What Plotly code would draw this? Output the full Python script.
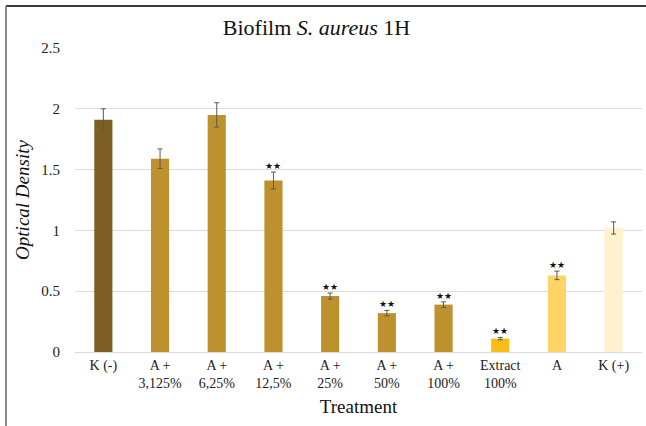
import plotly.graph_objects as go

# Biofilm optical density per treatment
categories = ["K (-)", "A +<br>3,125%", "A +<br>6,25%", "A +<br>12,5%", "A +<br>25%",
              "A +<br>50%", "A +<br>100%", "Extract<br>100%", "A", "K (+)"]
od_values = [1.91, 1.59, 1.95, 1.41, 0.46, 0.32, 0.39, 0.11, 0.63, 1.02]
od_errors = [0.09, 0.08, 0.10, 0.07, 0.025, 0.022, 0.022, 0.01, 0.035, 0.05]
significant = [False, False, False, True, True, True, True, True, True, False]
bar_colors = ["#7D5F24", "#BD912E", "#BD912E", "#BD912E", "#BD912E",
              "#BD912E", "#BD912E", "#FBBC15", "#FDD567", "#FEF1CC"]
y_ticks = [0, 0.5, 1, 1.5, 2, 2.5]
y_tick_text = ["0", "0.5", "1", "1.5", "2", "2.5"]

SERIF = "Liberation Serif, Times New Roman, serif"

fig = go.Figure(go.Bar(
    x=categories,
    y=od_values,
    marker=dict(color=bar_colors, line=dict(width=0)),
    error_y=dict(type="data", array=od_errors, color="#595959", thickness=1, width=2.5),
    hoverinfo="x+y",
))

# significance markers above the error bars
for cat, v, e, sig in zip(categories, od_values, od_errors, significant):
    if sig:
        fig.add_annotation(x=cat, y=v + e, text="★★", showarrow=False,
                           yanchor="bottom", yshift=-1,
                           font=dict(family="DejaVu Sans", size=9, color="#111111"))

fig.update_layout(
    width=646, height=426,
    margin=dict(l=75, r=4, t=48, b=74, autoexpand=False),
    paper_bgcolor="white", plot_bgcolor="white",
    showlegend=False,
    bargap=0.68,
    font=dict(family=SERIF, color="#111111"),
    title=dict(text="Biofilm <i>S. aureus</i> 1H", x=0.49, xanchor="center",
               xref="container", y=0.935, yanchor="middle",
               font=dict(family=SERIF, size=22, color="#111111")),
    xaxis=dict(
        showgrid=False, showline=True, linecolor="#D9D9D9", linewidth=1,
        ticks="", tickfont=dict(family=SERIF, size=14, color="#222222"),
        title=dict(text="Treatment", font=dict(family=SERIF, size=19, color="#111111"),
                   standoff=9),
    ),
    yaxis=dict(
        range=[0, 2.5], tickvals=y_ticks, ticktext=y_tick_text,
        showgrid=True, gridcolor="#DCDCDC", gridwidth=1,
        zeroline=True, zerolinecolor="#D9D9D9", zerolinewidth=1,
        ticks="", ticklabelstandoff=14,
        tickfont=dict(family=SERIF, size=15, color="#222222"),
        title=dict(text="<i>Optical Density</i>",
                   font=dict(family=SERIF, size=19, color="#111111"), standoff=6),
    ),
    shapes=[
        # frame around the chart
        dict(type="line", xref="paper", yref="paper", x0=-0.1217, x1=1.01,
             y0=1.138, y1=1.138, line=dict(color="#3A3A3A", width=2)),
        dict(type="line", xref="paper", yref="paper", x0=-0.1217, x1=-0.1217,
             y0=1.138, y1=-0.25, line=dict(color="#8A8A8A", width=2)),
    ],
)

fig.write_html("out.html")
